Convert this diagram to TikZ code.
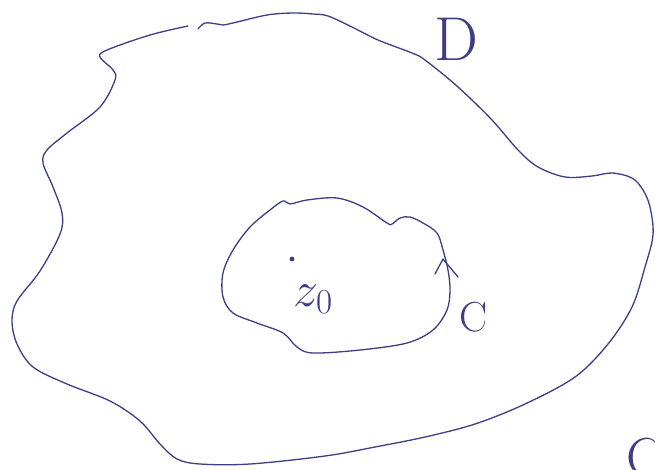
\RequirePackage{fix-cm}
\documentclass[tikz,border=0pt]{standalone}
\usepackage{xcolor}
\definecolor{inkc}{RGB}{62,62,132}
\begin{document}
\begin{tikzpicture}[x=1pt,y=-1pt,
  ink/.style={draw=inkc, line width=1.3pt, line cap=round, line join=round},
  lbl/.style={text=inkc, inner sep=0pt}]
\useasboundingbox (0,0) rectangle (655,469);
\fill[white] (0,0) rectangle (655,469);
\begin{scope}
\clip (0,0) rectangle (655,469);
% outer region D boundary
\draw[ink] plot[smooth, tension=0.55] coordinates {
 (198,29) (205,23) (217,24) (223,25) (233,23) (267,15) (293,13) (313,14) (328,16)
 (352,27) (378,40) (412,53) (425,60) (458,87) (492,120) (518,150) (538,167)
 (565,177) (592,176) (612,173) (632,178) (643,190) (650,207) (653,235)
 (645,267) (632,307) (608,344) (575,377) (525,404) (475,424) (425,437)
 (375,447) (325,456) (250,464) (200,464) (177,459) (160,444) (140,421)
 (110,401) (67,384) (33,367) (17,344) (12,321) (17,301) (40,271) (60,234)
 (62,213) (53,187) (43,163) (47,150) (67,133) (100,107) (115,80) (113,70)
 (100,57) (107,50) (150,35) (188,26)};
% inner contour C
\draw[ink] plot[smooth cycle, tension=0.55] coordinates {
 (283,201) (290,204) (307,200) (337,198) (363,207) (387,223) (392,224)
 (400,218) (410,217) (423,223) (437,233) (443,250) (448,270) (450,290)
 (447,310) (433,330) (407,343) (360,350) (313,353) (297,347) (283,333)
 (257,323) (233,313) (223,297) (223,273) (233,250) (250,227) (270,210)};
% orientation mark on C
\draw[ink] (435,274) -- (443,259) -- (458,277);
% point z0
\fill[inkc] (292,259) circle (2.4pt);
\node[lbl, anchor=base] (z0) at (313,306) {\fontsize{50}{50}\selectfont $z_0$};
\node[lbl, anchor=base] (lC) at (474,331) {\fontsize{42}{42}\selectfont C};
\node[lbl, anchor=base] (lD) at (456,60) {\fontsize{62}{62}\selectfont D};
\node[lbl, anchor=base west] (lC2) at (626,476) {\fontsize{55}{55}\selectfont C};
\end{scope}
\end{tikzpicture}
\end{document}
